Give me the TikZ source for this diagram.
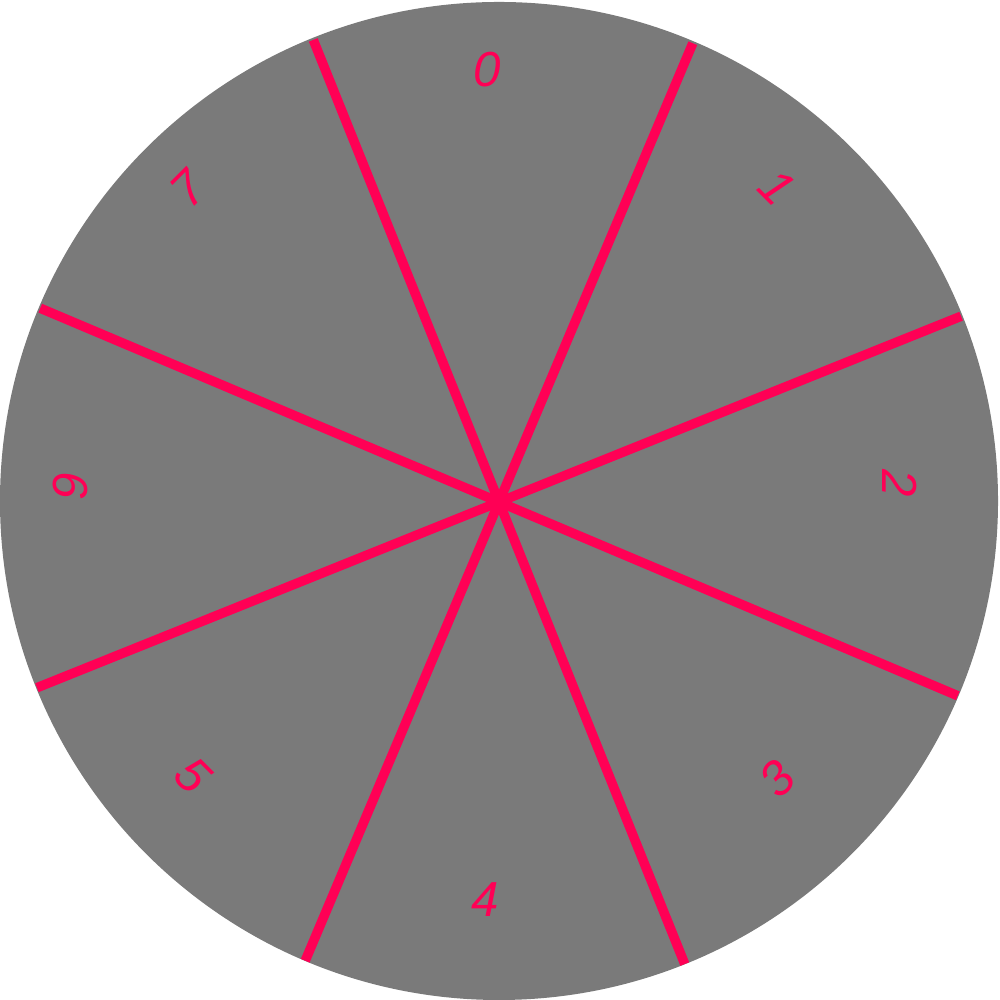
\documentclass[tikz,border=0pt]{standalone}
\usepackage{fontspec}
\setmainfont{Liberation Sans}
\usepackage{xcolor}
\definecolor{discgray}{RGB}{122,122,122}
\definecolor{spokered}{HTML}{FF0055}
\usepackage{tikz}
\usetikzlibrary{calc}

\begin{document}
\begin{tikzpicture}[
    every node/.style={font=\fontsize{14}{16}\selectfont\itshape},
    spoke/.style={spokered, line width=2.7pt},
    sectorlabel/.style={text=spokered, inner sep=0pt},
  ]
    \def\R{4.99}                           % 圆盘半径（单位：cm）
    \useasboundingbox (0, 0) rectangle (10, 10);

    % 圆盘
    \fill[discgray] (\R, \R) circle (\R);
    \coordinate (hub) at (4.99, 4.98);

    % 分隔线
    \foreach \a in {21.9, 67.1, 111.9, 157.1}
      \draw[spoke] ($(hub) + (\a:4.98)$) -- ($(hub) + (\a+180:4.98)$);

    % 各扇区编号
    \foreach \k/\x/\y/\r in {0/4.87/9.30/0, 1/7.77/8.13/-45, 2/9.00/5.17/-90,
        3/7.77/2.21/45, 4/4.85/1.00/0, 5/1.93/2.25/-45,
        6/0.70/5.15/-90, 7/1.88/8.11/45}
      \node[sectorlabel, rotate=\r] (lab\k) at (\x, \y) {\k};
  \end{tikzpicture}
\end{document}
